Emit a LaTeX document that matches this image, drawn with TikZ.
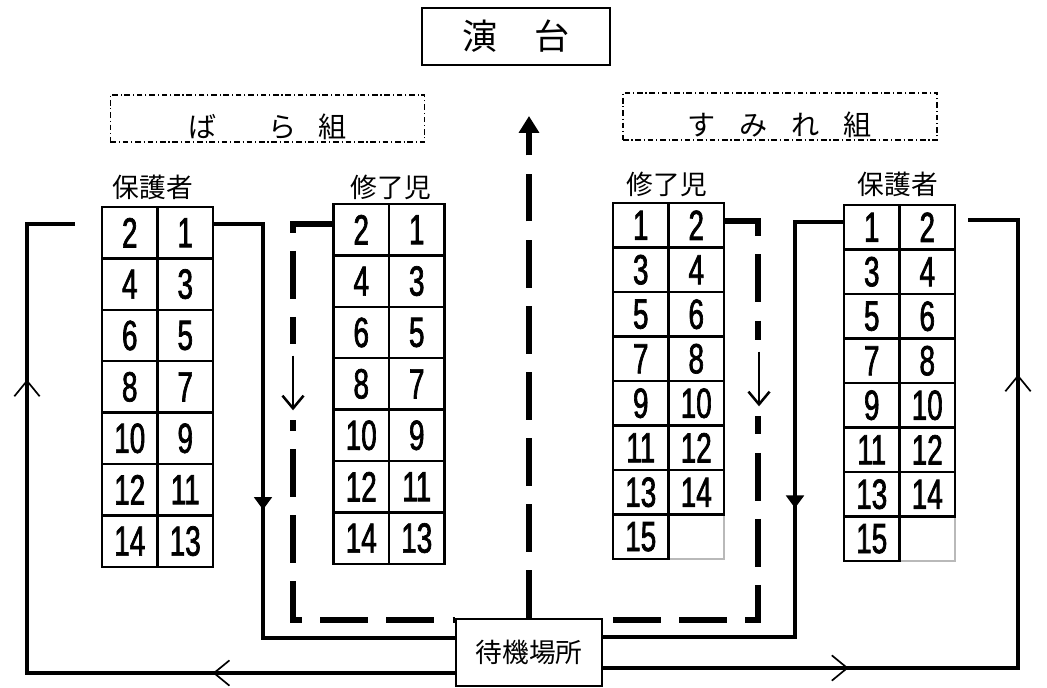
\documentclass[tikz,border=0pt]{standalone}
\usepackage{fontspec}
\usetikzlibrary{arrows.meta,decorations.markings}
\newfontfamily\jpfont{Noto Sans CJK JP}
\newfontfamily\numfont[FakeStretch=0.66,FakeBold=1.6]{Liberation Sans}

\begin{document}
\begin{tikzpicture}[x=0.025cm,y=-0.025cm,
            seat/.style={draw,line width=1.6pt,inner sep=0pt,minimum width=1.3875cm,font=\numfont\fontsize{30}{30}\selectfont},
            leftseat/.style={seat,minimum height=1.285cm},
            rightseat/.style={seat,minimum height=1.1125cm},
            emptyseat/.style={draw=gray!55,line width=0.8pt,inner sep=0pt,minimum width=1.3875cm,minimum height=1.1125cm},
            heading/.style={font=\jpfont\fontsize{19}{19}\selectfont},
            groupbox/.style={draw,line width=1pt,dash pattern=on 4pt off 2pt on 0.8pt off 2pt,minimum width=7.85cm,minimum height=1.175cm,text height=27pt,text depth=0pt,font=\jpfont\fontsize{20}{20}\selectfont},
            route/.style={line width=2.3pt},
            walk/.style={line width=4.4pt,dash pattern=on 34pt off 13pt},
            pointer/.style={line width=1.8pt,-{Straight Barb[length=9pt,width=15pt]}},
            gapmask/.style={fill=white,inner sep=0pt,minimum width=0.4cm,minimum height=1.9cm},
            barbmark/.style={postaction={decorate,decoration={markings,mark=at position #1 with {\arrow{Straight Barb[length=11pt,width=18pt,line width=1.2pt]}}}}},
            dropmark/.style={postaction={decorate,decoration={markings,mark=at position #1 with {\arrow{Triangle[length=9pt,width=12.5pt]}}}}}]
            \useasboundingbox (0,0) rectangle (1047,687);
            \fill[white] (0,0) rectangle (1047,687);

            \node[draw,line width=1.4pt,minimum width=4.7cm,minimum height=1.425cm,font=\jpfont\fontsize{25}{25}\selectfont] (stage) at (516,36.5) {演\hspace{1.07em}台};

            \node[groupbox] (bara) at (267.5,118.5) {ば\hspace{1.85em}ら\hspace{0.75em}組};
            \node[groupbox] (sumire) at (780,116.5) {す\hspace{0.85em}み\hspace{0.85em}れ\hspace{0.85em}組};

            \node[heading] (lpHead) at (153,187) {保護者};
            \node[heading] (lcHead) at (391,187) {修了児};
            \node[heading] (rcHead) at (667,184) {修了児};
            \node[heading] (rpHead) at (898,184) {保護者};

            \node[emptyseat] (rc-8-2) at (696.25,{203+44.5*7.5}) {};
            \node[emptyseat] (rp-8-2) at (927.25,{205+44.5*7.5}) {};

            \foreach \r in {1,...,7} {
                \pgfmathtruncatemacro\odd{2*\r-1}
                \pgfmathtruncatemacro\even{2*\r}
                \node[leftseat] (lp-\r-1) at (129.75,{207+51.4*(\r-0.5)}) {\even};
                \node[leftseat] (lp-\r-2) at (185.25,{207+51.4*(\r-0.5)}) {\odd};
                \node[leftseat] (lc-\r-1) at (361.25,{204+51.4*(\r-0.5)}) {\even};
                \node[leftseat] (lc-\r-2) at (416.75,{204+51.4*(\r-0.5)}) {\odd};
                \node[rightseat] (rc-\r-1) at (640.75,{203+44.5*(\r-0.5)}) {\odd};
                \node[rightseat] (rc-\r-2) at (696.25,{203+44.5*(\r-0.5)}) {\even};
                \node[rightseat] (rp-\r-1) at (871.75,{205+44.5*(\r-0.5)}) {\odd};
                \node[rightseat] (rp-\r-2) at (927.25,{205+44.5*(\r-0.5)}) {\even};
            }
            \node[rightseat] (rc-8-1) at (640.75,{203+44.5*7.5}) {15};
            \node[rightseat] (rp-8-1) at (871.75,{205+44.5*7.5}) {15};

            \node[draw,line width=1.4pt,fill=white,minimum width=3.65cm,minimum height=1.675cm,font=\jpfont\fontsize{19}{19}\selectfont] (wait) at (529,652.5) {待機場所};

            \coordinate (lpIn) at (75,224);
            \coordinate (lOutC) at (27,673);
            \coordinate (lInC) at (263,638);
            \coordinate (lWalkC) at (293,620);
            \coordinate (rWalkC) at (758,620);
            \coordinate (rInC) at (795,637);
            \coordinate (rOutC) at (1018,668);
            \coordinate (rpIn) at (968,220);
            \coordinate (stageIn) at (529,116);

            \draw[route,barbmark=0.262,barbmark=0.78] (wait.west |- lOutC) -- (lOutC) |- (lpIn);
            \draw[route,dropmark=0.511] ([yshift=0.22cm]lp-1-2.east) -| (lInC) -- (lInC -| wait.west);
            \draw[route,dropmark=0.51] ([yshift=0.13cm]rp-1-1.west) -| (rInC) -- (rInC -| wait.east);
            \draw[route,barbmark=0.269,barbmark=0.776] (wait.east |- rOutC) -- (rOutC) |- (rpIn);

            \draw[walk] ([yshift=0.14cm]lc-1-1.west) -| (lWalkC) -- (lWalkC -| wait.west);
            \draw[walk] ([yshift=0.1cm]rc-1-2.east) -| (rWalkC) -- (rWalkC -| wait.east);
            \draw[walk,-{Triangle[length=12pt,width=14pt]}] (wait.north) -- (stageIn);

            \node[gapmask] (lGap) at (293,382) {};
            \draw[pointer] ([yshift=-0.3cm]lGap.north) -- ([yshift=0.25cm]lGap.south);
            \node[gapmask] (rGap) at (759,378) {};
            \draw[pointer] ([yshift=-0.3cm]rGap.north) -- ([yshift=0.25cm]rGap.south);
\end{tikzpicture}
\end{document}
